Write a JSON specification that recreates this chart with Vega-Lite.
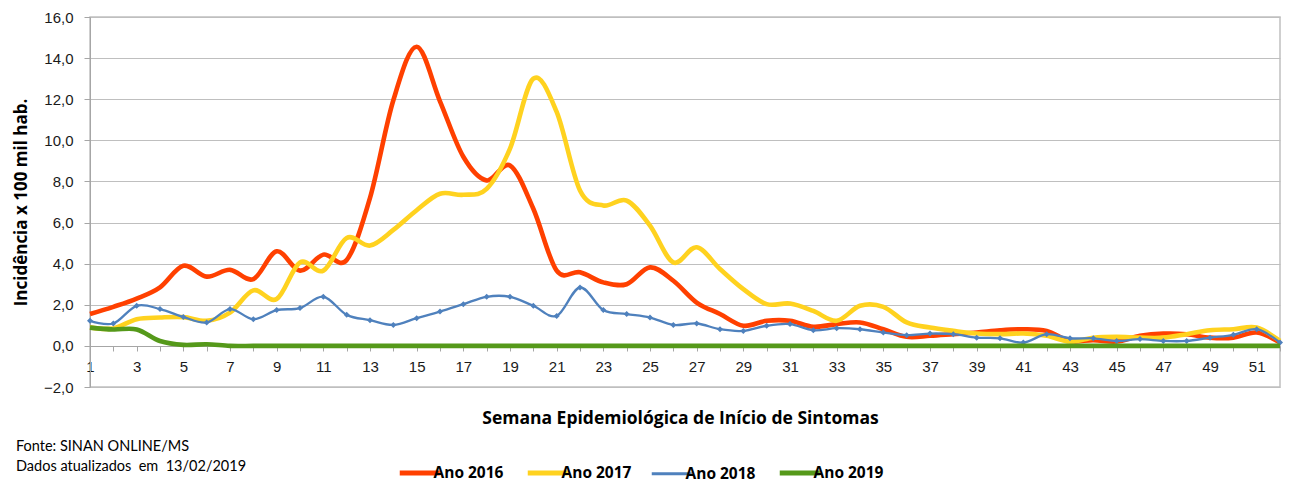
{
  "$schema": "https://vega.github.io/schema/vega-lite/v6.json",
  "width": 1190,
  "height": 370,
  "autosize": "none",
  "padding": {"left": 90, "top": 17, "right": 9, "bottom": 95},
  "background": "white",
  "config": {
    "view": {"stroke": "#C0C0C0", "strokeWidth": 1.5},
    "font": "Liberation Sans"
  },
  "title": {
    "text": "Fonte: SINAN ONLINE/MS",
    "subtitle": "Dados atualizados \u00a0em \u00a013/02/2019",
    "orient": "bottom",
    "anchor": "start",
    "frame": "group",
    "dx": -74,
    "dy": -53,
    "offset": 10,
    "font": "Lato",
    "fontSize": 14.5,
    "fontWeight": "normal",
    "color": "#000000",
    "subtitleFont": "Lato",
    "subtitleFontSize": 14.5,
    "subtitleColor": "#000000",
    "subtitlePadding": 5
  },
  "data": {
    "values": [
      {"semana": 1, "Ano 2016": 1.55, "Ano 2017": 0.9, "Ano 2018": 1.22, "Ano 2019": 0.89},
      {"semana": 2, "Ano 2016": 1.9, "Ano 2017": 0.85, "Ano 2018": 1.09, "Ano 2019": 0.8},
      {"semana": 3, "Ano 2016": 2.3, "Ano 2017": 1.3, "Ano 2018": 1.95, "Ano 2019": 0.8},
      {"semana": 4, "Ano 2016": 2.85, "Ano 2017": 1.38, "Ano 2018": 1.79, "Ano 2019": 0.24},
      {"semana": 5, "Ano 2016": 3.9, "Ano 2017": 1.4, "Ano 2018": 1.41, "Ano 2019": 0.05},
      {"semana": 6, "Ano 2016": 3.37, "Ano 2017": 1.22, "Ano 2018": 1.14, "Ano 2019": 0.08},
      {"semana": 7, "Ano 2016": 3.7, "Ano 2017": 1.62, "Ano 2018": 1.79, "Ano 2019": 0},
      {"semana": 8, "Ano 2016": 3.25, "Ano 2017": 2.7, "Ano 2018": 1.3, "Ano 2019": 0},
      {"semana": 9, "Ano 2016": 4.6, "Ano 2017": 2.28, "Ano 2018": 1.74, "Ano 2019": 0},
      {"semana": 10, "Ano 2016": 3.66, "Ano 2017": 4.06, "Ano 2018": 1.84, "Ano 2019": 0},
      {"semana": 11, "Ano 2016": 4.44, "Ano 2017": 3.66, "Ano 2018": 2.39, "Ano 2019": 0},
      {"semana": 12, "Ano 2016": 4.18, "Ano 2017": 5.25, "Ano 2018": 1.51, "Ano 2019": 0},
      {"semana": 13, "Ano 2016": 7.2, "Ano 2017": 4.88, "Ano 2018": 1.25, "Ano 2019": 0},
      {"semana": 14, "Ano 2016": 11.95, "Ano 2017": 5.64, "Ano 2018": 1.02, "Ano 2019": 0},
      {"semana": 15, "Ano 2016": 14.55, "Ano 2017": 6.6, "Ano 2018": 1.35, "Ano 2019": 0},
      {"semana": 16, "Ano 2016": 11.9, "Ano 2017": 7.4, "Ano 2018": 1.67, "Ano 2019": 0},
      {"semana": 17, "Ano 2016": 9.2, "Ano 2017": 7.35, "Ano 2018": 2.03, "Ano 2019": 0},
      {"semana": 18, "Ano 2016": 8.05, "Ano 2017": 7.64, "Ano 2018": 2.39, "Ano 2019": 0},
      {"semana": 19, "Ano 2016": 8.78, "Ano 2017": 9.6, "Ano 2018": 2.39, "Ano 2019": 0},
      {"semana": 20, "Ano 2016": 6.67, "Ano 2017": 13.0, "Ano 2018": 1.95, "Ano 2019": 0},
      {"semana": 21, "Ano 2016": 3.66, "Ano 2017": 11.38, "Ano 2018": 1.46, "Ano 2019": 0},
      {"semana": 22, "Ano 2016": 3.58, "Ano 2017": 7.56, "Ano 2018": 2.84, "Ano 2019": 0},
      {"semana": 23, "Ano 2016": 3.09, "Ano 2017": 6.83, "Ano 2018": 1.74, "Ano 2019": 0},
      {"semana": 24, "Ano 2016": 3.0, "Ano 2017": 7.07, "Ano 2018": 1.55, "Ano 2019": 0},
      {"semana": 25, "Ano 2016": 3.82, "Ano 2017": 5.85, "Ano 2018": 1.38, "Ano 2019": 0},
      {"semana": 26, "Ano 2016": 3.17, "Ano 2017": 4.06, "Ano 2018": 1.02, "Ano 2019": 0},
      {"semana": 27, "Ano 2016": 2.11, "Ano 2017": 4.8, "Ano 2018": 1.09, "Ano 2019": 0},
      {"semana": 28, "Ano 2016": 1.55, "Ano 2017": 3.74, "Ano 2018": 0.81, "Ano 2019": 0},
      {"semana": 29, "Ano 2016": 0.98, "Ano 2017": 2.76, "Ano 2018": 0.73, "Ano 2019": 0},
      {"semana": 30, "Ano 2016": 1.22, "Ano 2017": 2.03, "Ano 2018": 0.98, "Ano 2019": 0},
      {"semana": 31, "Ano 2016": 1.22, "Ano 2017": 2.06, "Ano 2018": 1.06, "Ano 2019": 0},
      {"semana": 32, "Ano 2016": 0.93, "Ano 2017": 1.7, "Ano 2018": 0.76, "Ano 2019": 0},
      {"semana": 33, "Ano 2016": 1.06, "Ano 2017": 1.22, "Ano 2018": 0.86, "Ano 2019": 0},
      {"semana": 34, "Ano 2016": 1.14, "Ano 2017": 1.95, "Ano 2018": 0.81, "Ano 2019": 0},
      {"semana": 35, "Ano 2016": 0.81, "Ano 2017": 1.9, "Ano 2018": 0.65, "Ano 2019": 0},
      {"semana": 36, "Ano 2016": 0.44, "Ano 2017": 1.14, "Ano 2018": 0.52, "Ano 2019": 0},
      {"semana": 37, "Ano 2016": 0.49, "Ano 2017": 0.89, "Ano 2018": 0.6, "Ano 2019": 0},
      {"semana": 38, "Ano 2016": 0.57, "Ano 2017": 0.73, "Ano 2018": 0.57, "Ano 2019": 0},
      {"semana": 39, "Ano 2016": 0.65, "Ano 2017": 0.6, "Ano 2018": 0.4, "Ano 2019": 0},
      {"semana": 40, "Ano 2016": 0.76, "Ano 2017": 0.57, "Ano 2018": 0.37, "Ano 2019": 0},
      {"semana": 41, "Ano 2016": 0.81, "Ano 2017": 0.6, "Ano 2018": 0.16, "Ano 2019": 0},
      {"semana": 42, "Ano 2016": 0.73, "Ano 2017": 0.49, "Ano 2018": 0.57, "Ano 2019": 0},
      {"semana": 43, "Ano 2016": 0.24, "Ano 2017": 0.21, "Ano 2018": 0.37, "Ano 2019": 0},
      {"semana": 44, "Ano 2016": 0.28, "Ano 2017": 0.4, "Ano 2018": 0.37, "Ano 2019": 0},
      {"semana": 45, "Ano 2016": 0.21, "Ano 2017": 0.44, "Ano 2018": 0.24, "Ano 2019": 0},
      {"semana": 46, "Ano 2016": 0.49, "Ano 2017": 0.4, "Ano 2018": 0.33, "Ano 2019": 0},
      {"semana": 47, "Ano 2016": 0.6, "Ano 2017": 0.4, "Ano 2018": 0.24, "Ano 2019": 0},
      {"semana": 48, "Ano 2016": 0.57, "Ano 2017": 0.57, "Ano 2018": 0.24, "Ano 2019": 0},
      {"semana": 49, "Ano 2016": 0.4, "Ano 2017": 0.76, "Ano 2018": 0.4, "Ano 2019": 0},
      {"semana": 50, "Ano 2016": 0.4, "Ano 2017": 0.81, "Ano 2018": 0.54, "Ano 2019": 0},
      {"semana": 51, "Ano 2016": 0.65, "Ano 2017": 0.89, "Ano 2018": 0.81, "Ano 2019": 0},
      {"semana": 52, "Ano 2016": 0.16, "Ano 2017": 0.24, "Ano 2018": 0.16, "Ano 2019": 0}
    ]
  },
  "transform": [
    {"fold": ["Ano 2016", "Ano 2017", "Ano 2018", "Ano 2019"], "as": ["serie", "valor"]}
  ],
  "encoding": {
    "x": {
      "field": "semana",
      "type": "quantitative",
      "scale": {"domain": [1, 52], "nice": false, "zero": false},
      "axis": {
        "title": "Semana Epidemiológica de Início de Sintomas",
        "titleFont": "Open Sans",
        "titleFontSize": 17.5,
        "titleFontWeight": "bold",
        "titleColor": "#000000",
        "titlePadding": 35,
        "titleX": 590,
        "values": [1,2,3,4,5,6,7,8,9,10,11,12,13,14,15,16,17,18,19,20,21,22,23,24,25,26,27,28,29,30,31,32,33,34,35,36,37,38,39,40,41,42,43,44,45,46,47,48,49,50,51,52],
        "labelExpr": "datum.value % 2 == 1 ? datum.label : ''",
        "labelFontSize": 15,
        "labelColor": "#1a1a1a",
        "labelPadding": 8,
        "labelFlush": false,
        "labelOverlap": false,
        "tickSize": 5,
        "tickColor": "#A6A6A6",
        "domainColor": "#A6A6A6",
        "grid": false,
        "offset": -41
      }
    },
    "y": {
      "field": "valor",
      "type": "quantitative",
      "scale": {"domain": [-2, 16], "nice": false, "zero": false},
      "axis": {
        "title": "Incidência x 100 mil hab.",
        "titleFont": "Open Sans",
        "titleFontSize": 17,
        "titleFontWeight": "bold",
        "titleColor": "#000000",
        "titlePadding": 13,
        "values": [-2, 0, 2, 4, 6, 8, 10, 12, 14, 16],
        "labelExpr": "replace(format(datum.value, '.1f'), '.', ',')",
        "labelFontSize": 15,
        "labelColor": "#1a1a1a",
        "labelPadding": 11,
        "tickSize": 6,
        "tickColor": "#A6A6A6",
        "domainColor": "#A6A6A6",
        "gridColor": "#BFBFBF",
        "gridWidth": 1.2
      }
    },
    "color": {
      "field": "serie",
      "type": "nominal",
      "scale": {
        "domain": ["Ano 2016", "Ano 2017", "Ano 2018", "Ano 2019"],
        "range": ["#FF4000", "#FFD21F", "#4F81BD", "#55991A"]
      },
      "legend": {
        "title": null,
        "orient": "none",
        "legendX": 322,
        "legendY": 448,
        "direction": "horizontal",
        "padding": 0,
        "symbolType": "stroke",
        "symbolSize": 1600,
        "symbolStrokeWidth": 5,
        "labelFont": "Open Sans",
        "labelFontSize": 15.5,
        "labelFontWeight": "bold",
        "labelColor": "#000000",
        "labelOffset": 6,
        "columnPadding": 13,
        "encode": {
          "symbols": {"update": {"strokeWidth": {"signal": "datum.value === 'Ano 2018' ? 3 : 5"}}}
        }
      }
    }
  },
  "layer": [
    {
      "transform": [{"filter": "datum.serie === 'Ano 2016' || datum.serie === 'Ano 2017'"}],
      "mark": {"type": "line", "interpolate": "cardinal", "strokeWidth": 4.6}
    },
    {
      "transform": [{"filter": "datum.serie === 'Ano 2018'"}],
      "mark": {"type": "line", "interpolate": "cardinal", "strokeWidth": 2.3}
    },
    {
      "transform": [{"filter": "datum.serie === 'Ano 2018'"}],
      "mark": {"type": "point", "shape": "diamond", "filled": true, "size": 36, "opacity": 1}
    },
    {
      "transform": [{"filter": "datum.serie === 'Ano 2019'"}],
      "mark": {"type": "line", "interpolate": "cardinal", "strokeWidth": 4.6}
    }
  ]
}
